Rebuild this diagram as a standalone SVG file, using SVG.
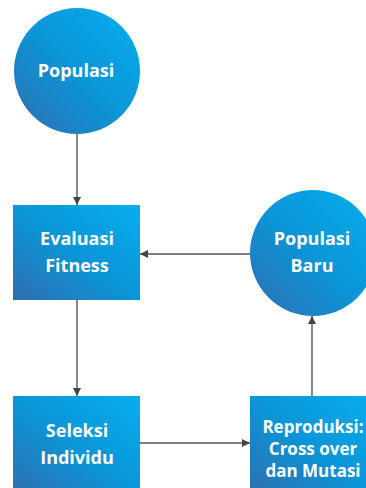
<svg xmlns="http://www.w3.org/2000/svg" width="366" height="488" viewBox="0 0 366 488">
<defs>
<linearGradient id="g" x1="0" y1="1" x2="1" y2="0">
<stop offset="0" stop-color="#2f6eaf"/>
<stop offset="0.5" stop-color="#0a96d8"/>
<stop offset="1" stop-color="#07aeee"/>
</linearGradient>
<marker id="ah" viewBox="0 0 10 10" refX="10" refY="5" markerWidth="8" markerHeight="8" markerUnits="userSpaceOnUse" orient="auto">
<path d="M0,0 L10,5 L0,10 z" fill="#444"/>
</marker>
<style>
.shape{fill:url(#g);}
.t{font-family:"Open Sans","Liberation Sans",sans-serif;font-weight:bold;font-size:18px;fill:#fff;text-anchor:middle;}
.s{font-size:17px;}
.c{stroke:#555;stroke-width:1.4;fill:none;marker-end:url(#ah);}
</style>
</defs>
<rect width="366" height="488" fill="#fff"/>
<g id="connectors">
<line class="c" x1="77" y1="134" x2="77" y2="205"/>
<line class="c" x1="250" y1="254" x2="140" y2="254"/>
<line class="c" x1="77" y1="300" x2="77" y2="396"/>
<line class="c" x1="140" y1="443" x2="250" y2="443"/>
<line class="c" x1="312" y1="396" x2="312" y2="316"/>
</g>
<g id="populasi">
<circle class="shape" cx="77" cy="71" r="63"/>
<text class="t" x="76" y="77">Populasi</text>
</g>
<g id="evaluasi">
<rect class="shape" x="13" y="205" width="127" height="95"/>
<text class="t" x="77" y="245">Evaluasi</text>
<text class="t" x="77" y="272">Fitness</text>
</g>
<g id="populasi-baru">
<circle class="shape" cx="313" cy="253" r="63"/>
<text class="t" x="312" y="245">Populasi</text>
<text class="t" x="312" y="272">Baru</text>
</g>
<g id="seleksi">
<rect class="shape" x="13" y="396" width="127" height="100"/>
<text class="t" x="77" y="437">Seleksi</text>
<text class="t" x="77" y="464">Individu</text>
</g>
<g id="reproduksi">
<rect class="shape" x="250" y="396" width="127" height="100"/>
<text class="t s" x="313" y="433">Reproduksi:</text>
<text class="t s" x="313" y="455">Cross over</text>
<text class="t s" x="313" y="477">dan Mutasi</text>
</g>
</svg>
